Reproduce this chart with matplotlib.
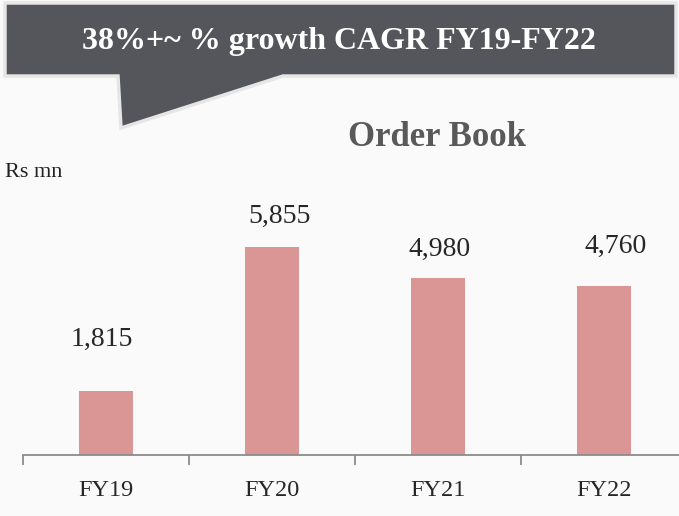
import matplotlib
matplotlib.use("Agg")
import matplotlib.pyplot as plt
from matplotlib.patches import Polygon

categories = ["FY19", "FY20", "FY21", "FY22"]
values = [1815, 5855, 4980, 4760]
value_labels = ["1,815", "5,855", "4,980", "4,760"]
title = "Order Book"
unit_label = "Rs mn"
callout_text = "38%+~ % growth CAGR FY19-FY22"

W, H = 679, 516
fig = plt.figure(figsize=(W / 100, H / 100), dpi=100)
fig.patch.set_facecolor("#FAFAFA")

serif = ["Liberation Serif", "DejaVu Serif"]

def fx(x):
    return x / W

def fy(y):
    return 1 - y / H

# callout box with tail
pts = [(5, 3), (676, 3), (676, 76), (283, 76), (121, 128), (118, 76), (5, 76)]
poly = Polygon([(fx(x), fy(y)) for x, y in pts], closed=True,
               facecolor="#54565B", edgecolor="#E6E6E6", linewidth=2.5,
               transform=fig.transFigure, zorder=1)
fig.patches.append(poly)
fig.text(fx(339), fy(42), callout_text, color="white", fontsize=23,
         fontweight="bold", family=serif, ha="center", va="center")

fig.text(fx(437), fy(138), title, color="#595959", fontsize=25,
         fontweight="bold", family=serif, ha="center", va="center")
fig.text(fx(5), fy(173), unit_label, color="#222222", fontsize=16,
         family=serif, ha="left", va="center")

ax = fig.add_axes([23 / W, (H - 455) / H, 664 / W, 284 / H])
ax.set_facecolor("none")
x = list(range(len(categories)))
ax.bar(x, values, width=0.33, color="#D99694", zorder=2)
ax.set_xlim(-0.5, 3.5)
ax.set_ylim(0, 8000)

offsets = [(-4, 51), (7, 31), (2, 29), (12, 40)]
for xi, v, lab, (dx, dy) in zip(x, values, value_labels, offsets):
    ax.annotate(lab, (xi, v), xytext=(dx * 0.72, dy * 0.72), textcoords="offset points",
                ha="center", va="center", fontsize=20, family=serif, color="#262626")

for s in ["top", "right", "left"]:
    ax.spines[s].set_visible(False)
ax.spines["bottom"].set_color("#8C8C8C")
ax.spines["bottom"].set_linewidth(1.3)
ax.set_yticks([])
ax.set_xticks([-0.5, 0.5, 1.5, 2.5, 3.5])
ax.set_xticklabels([])
ax.tick_params(axis="x", which="major", length=7, width=1.3, color="#8C8C8C", direction="out")
ax.set_xticks(x, minor=True)
ax.set_xticklabels(categories, minor=True, fontsize=17.5, family=serif, color="#262626")
ax.tick_params(axis="x", which="minor", length=0, pad=18)

fig.savefig("out.png", dpi=100, facecolor=fig.get_facecolor())
